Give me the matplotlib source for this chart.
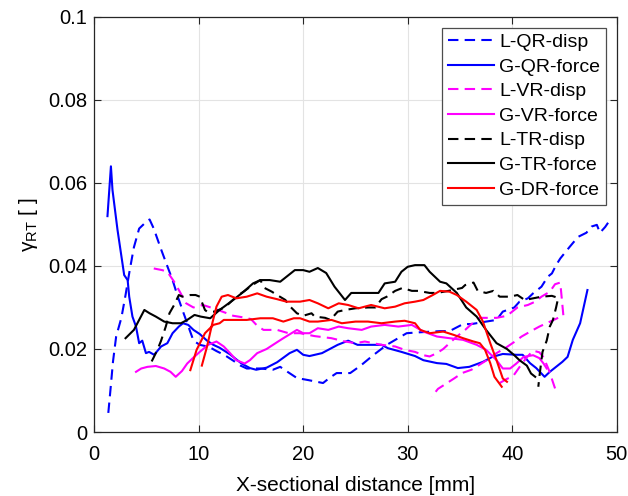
import numpy as np
import matplotlib
matplotlib.use('Agg')
import matplotlib.pyplot as plt

plt.rcParams['font.family'] = ['Liberation Sans', 'DejaVu Sans']
plt.rcParams['mathtext.fontset'] = 'custom'
plt.rcParams['mathtext.rm'] = 'Liberation Sans'
plt.rcParams['mathtext.it'] = 'Liberation Sans:italic'

nan = np.nan

# L-QR-disp (blue dashed)
lqr_x = [1.35, 1.55, 1.8, 2.1, 2.6, 3.0, 3.4, 3.8, 4.3, 4.8, 5.3, 5.7, 6.4, 6.9, 7.5, 8.0, 8.5,
         9.0, 9.5, 10.1, 11.0, 11.7, 12.5, 13.3, 14.0, 14.6, 15.9, 17.1, 17.8, 18.5, 19.4, 20.5,
         21.9, 22.5, 23.2, 24.5, 25.5, 26.7, 28.0, 29.9, 31.0, 33.1, 34.0, 35.3, 36.1, 37.5, 38.5,
         39.1, 40.2, 40.7, 41.5, 42.0, 42.8, 43.4, 43.8, 44.2, 44.6, 45.5, 46.3, 47.1, 47.6, 48.1,
         48.4, 48.9, 49.2]
lqr_y = [0.0046, 0.010, 0.017, 0.023, 0.0275, 0.033, 0.039, 0.0445, 0.049, 0.0502, 0.0512, 0.049,
         0.044, 0.0406, 0.0366, 0.0326, 0.029, 0.0255, 0.022, 0.021, 0.0205, 0.0195, 0.0185, 0.0172,
         0.016, 0.0153, 0.0153, 0.015, 0.0157, 0.0145, 0.013, 0.0125, 0.0118, 0.013, 0.0142, 0.0142,
         0.016, 0.0185, 0.021, 0.0238, 0.024, 0.0243, 0.0243, 0.026, 0.026, 0.0266, 0.027, 0.029,
         0.030, 0.0314, 0.0322, 0.0334, 0.035, 0.0374, 0.0382, 0.0402, 0.0418, 0.0446, 0.047, 0.048,
         0.0495, 0.0499, 0.048, 0.0494, 0.0505]

# G-QR-force (blue solid)
gqr_x = [1.27, 1.6, 1.75, 2.23, 2.87, 3.2, 3.35, 3.66, 4.0, 4.3, 4.6, 4.95, 5.25, 5.74, 6.4, 7.0,
         7.5, 8.1, 8.5, 9.0, 9.5, 10.1, 10.8, 11.4, 12.0, 13.0, 14.1, 14.9, 15.5, 16.5, 17.5, 18.7,
         19.4, 20.0, 20.6, 21.8, 23.3, 24.3, 25.2, 26.2, 27.5, 28.1, 29.4, 30.7, 31.5, 32.8, 33.7,
         34.8, 35.9, 37.2, 38.1, 39.1, 40.4, 41.0, 41.7, 42.3, 43.1, 43.6, 44.2, 44.8, 45.3, 45.8,
         46.5, 47.2]
gqr_y = [0.052, 0.064, 0.0583, 0.0487, 0.0378, 0.0366, 0.0326, 0.0278, 0.0254, 0.0214, 0.022,
         0.019, 0.0193, 0.0186, 0.0206, 0.0214, 0.0238, 0.0254, 0.0262, 0.0258, 0.0246, 0.0236,
         0.022, 0.021, 0.0203, 0.0187, 0.0165, 0.0154, 0.015, 0.0155, 0.0168, 0.019, 0.0198, 0.0186,
         0.0183, 0.019, 0.021, 0.022, 0.021, 0.021, 0.021, 0.0202, 0.0193, 0.0183, 0.0173, 0.0166,
         0.0164, 0.0154, 0.0157, 0.0169, 0.0181, 0.0188, 0.0186, 0.0186, 0.0166, 0.0154, 0.0133,
         0.0145, 0.0157, 0.0169, 0.0181, 0.0222, 0.0262, 0.0342]

# L-VR-disp (magenta dashed), two pieces split by nan
lvr_x = [5.7, 6.5, 7.0, 7.65, 8.1, 8.8, 9.5, 10.4, 11.4, 12.7, 13.3, 14.3, 15.0, 15.6, 16.2, 17.5,
         18.6, 19.7, 21.1, 22.7, 24.0, 25.0, 25.9, 27.5, 28.8, 29.7, 30.7, 31.5, 32.1, 32.8, 33.4,
         34.0, 34.7, 35.5, 36.1, 36.9, 37.5, 38.5, 39.5, 40.5, 41.5, 42.2, 42.8, 43.6, 44.1, 44.6,
         44.75, 44.9, 44.4, 43.8, 42.6, 41.8, 40.9, 40.2, 39.5, 38.5, 37.5, 36.1, 35.2, 34.5, 33.4,
         32.9, 32.3, nan,
         38.8, 39.5, 40.1, 40.8, 41.4, 42.0, 42.6, 43.0, 43.5, 44.1]
lvr_y = [0.0394, 0.039, 0.0386, 0.0362, 0.0342, 0.031, 0.030, 0.0306, 0.0298, 0.0286, 0.028,
         0.0276, 0.0272, 0.0256, 0.0246, 0.0246, 0.0238, 0.0238, 0.0231, 0.0226, 0.0218, 0.0214,
         0.0218, 0.021, 0.0206, 0.0198, 0.0193, 0.0185, 0.0182, 0.019, 0.020, 0.0214, 0.023, 0.0246,
         0.026, 0.0275, 0.0275, 0.0275, 0.028, 0.030, 0.0306, 0.0314, 0.0326, 0.0338, 0.0356, 0.036,
         0.032, 0.028, 0.0275, 0.0268, 0.0254, 0.0243, 0.023, 0.0217, 0.0205, 0.019, 0.0172, 0.015,
         0.0142, 0.013, 0.0112, 0.0104, 0.0085, nan,
         0.0118, 0.0128, 0.0135, 0.016, 0.018, 0.0196, 0.0192, 0.018, 0.015, 0.0105]

# G-VR-force (magenta solid)
gvr_x = [4.0, 4.5, 5.1, 5.9, 6.7, 7.3, 7.8, 8.4, 8.9, 9.4, 10.1, 10.9, 11.7, 12.4, 13.0, 13.6,
         14.4, 14.9, 15.6, 16.5, 17.6, 18.1, 19.4, 20.0, 20.6, 21.4, 22.4, 23.4, 24.3, 25.6, 26.5,
         27.8, 29.1, 30.4, 31.5, 32.8, 34.0, 35.3, 36.6, 37.5, 38.5, 39.1, 39.8, 40.4, 41.1, 42.0,
         42.6, 43.0, 43.3]
gvr_y = [0.0145, 0.0153, 0.0157, 0.0159, 0.0153, 0.0145, 0.0133, 0.0147, 0.0165, 0.0177, 0.0193,
         0.021, 0.0218, 0.0206, 0.019, 0.0173, 0.0165, 0.0173, 0.019, 0.020, 0.0218, 0.0226, 0.0246,
         0.0238, 0.0238, 0.025, 0.0246, 0.0254, 0.025, 0.0246, 0.0254, 0.0258, 0.0254, 0.0258,
         0.0242, 0.023, 0.0226, 0.0222, 0.021, 0.0198, 0.0173, 0.0153, 0.0153, 0.0165, 0.0181,
         0.0185, 0.0178, 0.0165, 0.0153]

# L-TR-disp (black dashed)
ltr_x = [5.5, 6.05, 6.4, 6.85, 7.2, 7.65, 8.1, 8.45, 9.2, 9.7, 10.1, 10.6, 10.8, 11.5, 12.5, 13.6,
         14.4, 15.2, 15.9, 16.3, 17.0, 17.5, 18.3, 18.6, 19.4, 20.0, 20.8, 21.1, 22.1, 22.6, 23.3,
         24.0, 25.0, 26.2, 26.9, 27.5, 28.0, 28.8, 29.5, 30.4, 31.0, 32.1, 32.8, 33.9, 35.2, 35.5,
         36.3, 36.7, 37.5, 38.2, 38.8, 39.8, 40.5, 41.2, 42.2, 42.8, 43.8, 44.4, 44.2, 43.9, 43.6,
         43.3, 42.9, 42.8, 42.6, 42.5]
ltr_y = [0.017, 0.0198, 0.022, 0.0254, 0.0286, 0.0306, 0.033, 0.0326, 0.033, 0.033, 0.0326,
         0.0294, 0.029, 0.029, 0.030, 0.0326, 0.034, 0.0355, 0.0366, 0.0347, 0.0338, 0.033, 0.0318,
         0.0306, 0.0286, 0.028, 0.0286, 0.0278, 0.0275, 0.027, 0.029, 0.0294, 0.0298, 0.030, 0.030,
         0.032, 0.0326, 0.034, 0.0347, 0.034, 0.034, 0.0335, 0.0335, 0.034, 0.0347, 0.0354, 0.036,
         0.034, 0.0335, 0.034, 0.0326, 0.0326, 0.033, 0.0318, 0.0323, 0.0326, 0.0328, 0.0323, 0.030,
         0.027, 0.0254, 0.022, 0.0193, 0.0173, 0.0133, 0.0109]

# G-TR-force (black solid)
gtr_x = [3.0, 3.8, 4.8, 5.3, 5.9, 6.7, 7.5, 8.3, 8.9, 9.6, 10.2, 11.1, 12.0, 13.3, 14.3, 15.2,
         15.9, 16.8, 17.8, 18.4, 19.2, 20.0, 20.6, 21.4, 22.2, 23.0, 24.0, 24.6, 25.9, 27.2, 27.8,
         28.8, 29.4, 30.0, 30.7, 31.6, 32.1, 33.1, 33.7, 34.7, 35.6, 36.6, 37.5, 38.5, 39.5, 40.2,
         40.7, 41.4, 41.8, 42.2]
gtr_y = [0.0226, 0.0246, 0.0294, 0.0286, 0.0278, 0.0266, 0.0262, 0.0262, 0.027, 0.0282, 0.0278,
         0.0274, 0.0294, 0.0318, 0.0338, 0.0358, 0.0366, 0.0366, 0.0362, 0.0374, 0.039, 0.039,
         0.0386, 0.0395, 0.0383, 0.035, 0.0318, 0.0335, 0.0335, 0.0335, 0.0358, 0.0362, 0.0386,
         0.0398, 0.0402, 0.0402, 0.0386, 0.0362, 0.0358, 0.0335, 0.030, 0.0278, 0.0246, 0.0214,
         0.020, 0.0185, 0.0173, 0.016, 0.0141, 0.0133]

# G-DR-force (red solid), two branches split by nan
gdr_x = [9.2, 9.8, 10.6, 11.4, 12.0, 12.4, 13.3, 14.6, 15.9, 17.1, 18.1, 19.1, 19.7, 20.6, 21.4,
         22.7, 23.7, 25.0, 26.2, 27.5, 28.8, 29.7, 30.7, 31.2, 32.1, 33.4, 34.4, 35.3, 36.3, 36.9,
         37.4, 37.9, 38.3, 39.0, nan,
         10.3, 10.8, 11.3, 11.7, 12.2, 12.8, 13.6, 14.6, 15.6, 16.5, 17.5, 18.4, 19.7, 20.6, 21.4,
         22.4, 23.4, 24.3, 25.3, 26.5, 27.8, 28.8, 29.7, 30.7, 31.5, 32.4, 33.1, 34.0, 34.7, 35.6,
         36.6, 37.2, 37.9, 38.5, 39.1, 39.5]
gdr_y = [0.0149, 0.0198, 0.0238, 0.0258, 0.0262, 0.027, 0.027, 0.027, 0.0274, 0.0274, 0.0266,
         0.0274, 0.0274, 0.0266, 0.0266, 0.027, 0.0262, 0.0266, 0.0266, 0.0262, 0.0266, 0.0268,
         0.0262, 0.0246, 0.0238, 0.0242, 0.0234, 0.0226, 0.0218, 0.0214, 0.0198, 0.0166, 0.0133,
         0.0109, nan,
         0.016, 0.0206, 0.0262, 0.0302, 0.0326, 0.033, 0.0322, 0.0326, 0.0334, 0.0326, 0.032,
         0.0314, 0.0314, 0.0318, 0.031, 0.0298, 0.031, 0.0306, 0.0298, 0.0306, 0.0298, 0.0302,
         0.031, 0.0314, 0.0318, 0.033, 0.034, 0.0338, 0.033, 0.0314, 0.0294, 0.0266, 0.0214,
         0.0173, 0.0129, 0.0121]

yticks = [0, 0.02, 0.04, 0.06, 0.08, 0.1]
ytick_labels = ['0', '0.02', '0.04', '0.06', '0.08', '0.1']
xticks = [0, 10, 20, 30, 40, 50]

fig = plt.figure(figsize=(6.28, 4.96), dpi=100)
ax = fig.add_axes([0.150, 0.129, 0.832, 0.837])

lw = 1.5
dash = (5, 3)
ax.plot(lqr_x, lqr_y, color='#0000ff', lw=lw, ls='--', dashes=dash, label='L-QR-disp')
ax.plot(gqr_x, gqr_y, color='#0000ff', lw=lw, label='G-QR-force')
ax.plot(lvr_x, lvr_y, color='#ff00ff', lw=lw, ls='--', dashes=dash, label='L-VR-disp')
ax.plot(gvr_x, gvr_y, color='#ff00ff', lw=lw, label='G-VR-force')
ax.plot(ltr_x, ltr_y, color='black', lw=lw, ls='--', dashes=dash, label='L-TR-disp')
ax.plot(gtr_x, gtr_y, color='black', lw=lw, label='G-TR-force')
ax.plot(gdr_x, gdr_y, color='#ff0000', lw=lw, label='G-DR-force')

ax.set_xlim(0, 50)
ax.set_ylim(0, 0.1)
ax.set_xticks(xticks)
ax.set_yticks(yticks)
ax.set_yticklabels(ytick_labels)
ax.tick_params(direction='in', length=5, width=0.8, labelsize=14.5, colors='0.15',
               top=True, right=True, pad=5)
ax.tick_params(axis='x', pad=9)
for tl in ax.get_xticklabels() + ax.get_yticklabels():
    tl.set_color('black')
for s in ax.spines.values():
    s.set_color('0.15')
    s.set_linewidth(0.9)
ax.grid(True, color='#e3e3e3', linewidth=0.8)
ax.set_axisbelow(True)

ax.set_xlabel('X-sectional distance [mm]', fontsize=15, labelpad=9)
ax.set_ylabel(r'γ$_{\mathrm{RT}}$ [ ]', fontsize=15, labelpad=6)

leg = ax.legend(loc='upper right', fontsize=14, fancybox=False, framealpha=1,
                edgecolor='0.3', handlelength=2.4, handletextpad=0.25,
                labelspacing=0.36, borderpad=0.3, borderaxespad=0.55)
leg.get_frame().set_linewidth(0.9)

fig.savefig('out.png', dpi=100)
